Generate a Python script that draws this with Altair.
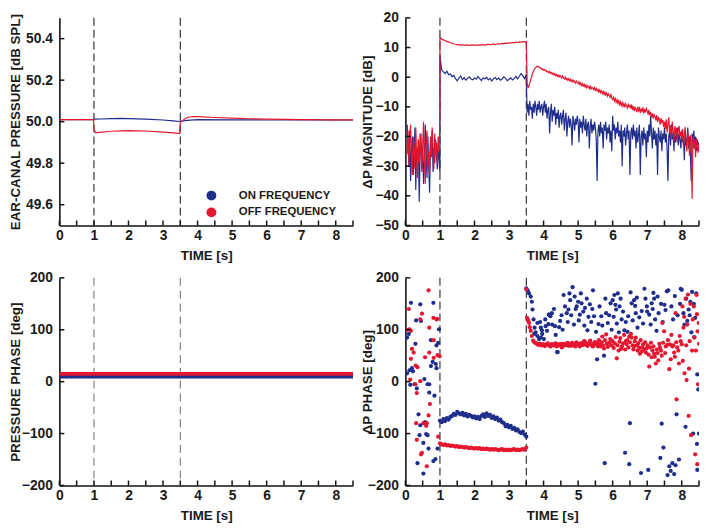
import altair as alt
import numpy as np
import pandas as pd

SERIES = ["ON FREQUENCY", "OFF FREQUENCY"]
BLUE = "#1f2d8c"
RED = "#e5162f"
FONT = "Liberation Sans"
INK = "#1a1a1a"

W, H = 297, 210

X_LABELS = [0, 1, 2, 3, 4, 5, 6, 7, 8]
X_TICKS = [0, 0.5, 1, 1.5, 2, 2.5, 3, 3.5, 4, 4.5, 5, 5.5, 6, 6.5, 7, 7.5, 8, 8.5]
MARKERS = [1.0, 3.5]

# ---------------- panel A: ear-canal pressure ----------------
A_Y_TICKS = [49.6, 49.8, 50.0, 50.2, 50.4]
A_ON_T = [0.0, 0.5, 0.99, 1.0, 1.2, 1.5, 1.8, 2.0, 2.5, 3.0, 3.3, 3.48, 3.52, 3.7, 4.0, 5.0, 6.0, 7.0, 8.0, 8.5]
A_ON_V = [50.010, 50.010, 50.010, 50.012, 50.013, 50.015, 50.016, 50.015, 50.012, 50.008,
          50.004, 50.001, 50.002, 50.006, 50.010, 50.009, 50.008, 50.008, 50.008, 50.008]
A_OFF_T = [0.0, 0.5, 0.99, 1.0, 1.05, 1.1, 1.5, 2.0, 2.5, 3.0, 3.3, 3.48, 3.5, 3.55, 3.7, 3.85,
           4.0, 4.5, 5.0, 5.5, 6.0, 7.0, 8.0, 8.5]
A_OFF_V = [50.010, 50.010, 50.010, 49.965, 49.946, 49.947, 49.954, 49.957, 49.955, 49.950,
           49.946, 49.943, 49.995, 50.004, 50.020, 50.025, 50.024, 50.020, 50.017, 50.014,
           50.012, 50.010, 50.009, 50.009]

# ---------------- panel B: delta-P magnitude (sampled segments) ----------------
B_Y_TICKS = [-50, -40, -30, -20, -10, 0, 10, 20]
B_ON_PRE = [-16, -22, -30, -18, -35, -25, -20, -33, -27, -17, -38, -24, -29, -21, -42, -26, -19,
            -31, -23, -36, -28, -16, -25, -34, -20, -30, -39, -22, -27, -18, -32, -24, -29, -21,
            -26, -31, -23, -28, -32]
B_ON_TONE = [7, 2.5, 1.8, 1.2, 2.0, 0.8, 1.1, 0.2, 0.6, -0.5, -1.2, -0.3, 0.4, -0.8, -0.2, -1.0,
             -0.4, 0.1, -0.6, -0.9, -0.3, -0.7, 0.2, -0.5, -1.1, -0.2, -0.6, 0.0, -0.9, -0.4,
             -1.3, -0.5, -0.1, -0.8, -0.3, -1.0, -0.6, 0.1, -0.4, -1.2, -0.7, -0.2, -0.9, -0.5,
             0.3, -0.6, 0.4, 1.2, 0.5, -0.5, 1.0]
B_ON_POST = [-1, -12, -9, -13, -8, -11, -10, -14, -9, -12, -8, -10, -13, -9, -11, -8, -12, -10, -9, -13,
             -10, -8, -12, -9, -14, -11, -10, -19, -12, -9, -15, -11, -13, -10, -16, -12, -14, -11, -17, -13,
             -12, -16, -13, -11, -18, -14, -12, -20, -15, -13, -17, -14, -16, -23, -13, -15, -18, -14, -16, -13,
             -15, -22, -14, -17, -15, -19, -13, -16, -18, -14, -20, -16, -15, -24, -17, -14, -19, -16, -18, -15,
             -17, -21, -35, -18, -16, -20, -15, -19, -17, -24, -16, -18, -15, -21, -17, -19, -16, -22, -18, -25,
             -13, -18, -16, -21, -17, -19, -15, -20, -18, -22, -16, -30, -18, -20, -17, -23, -19, -16, -21, -18,
             -33, -19, -17, -21, -16, -20, -18, -24, -17, -22, -19, -16, -33, -20, -18, -23, -17, -21, -19, -27,
             -18, -22, -16, -20, -13, -19, -24, -17, -21, -18, -23, -19, -33, -17, -20, -22, -18, -25, -19, -21,
             -17, -22, -19, -24, -35, -20, -18, -23, -16, -21, -19, -25, -18, -22, -20, -17, -23, -19, -21, -24,
             -18, -22, -20, -28, -19, -23, -21, -17, -24, -20, -26, -35, -19, -22, -18, -24, -20, -25, -21, -23,
             -22]
B_OFF_PRE = [-26, -18, -30, -22, -16, -28, -33, -20, -24, -31, -17, -27, -34, -21, -29, -19, -25, -32,
             -23, -15, -28, -36, -22, -18, -30, -25, -33, -20, -27, -17, -24, -31, -19, -26, -22, -29,
             -20, -25, -12]
B_OFF_TONE = [13.5, 12.8, 12.6, 12.4, 12.0, 11.9, 11.6, 11.5, 11.2, 11.1, 11.0, 10.9, 10.8, 11.0, 10.7,
              10.8, 10.9, 10.7, 10.8, 10.9, 10.8, 10.7, 10.9, 10.8, 10.9, 11.0, 10.8, 11.0, 11.1, 10.9,
              11.1, 11.2, 11.0, 11.2, 11.3, 11.2, 11.4, 11.3, 11.5, 11.4, 11.6, 11.5, 11.7, 11.6, 11.8,
              11.7, 11.9, 11.8, 12.0, 11.9, 12.0]
B_OFF_POST = [12, -2, -3.5, -3, -2, -1, 0, 1, 1.8, 2.5, 3, 3.3, 3.6, 3.5, 3.7, 3.4, 3.2, 3.0, 2.6, 2.8,
              2.4, 2.6, 2.1, 2.3, 1.8, 2.0, 1.5, 1.9, 1.3, 1.6, 1.0, 1.4, 0.8, 1.2, 0.5, 0.9, 0.3, 0.7, 0.1, 0.6,
              0.2, -0.3, 0.4, -0.2, -0.6, 0.0, -0.8, -0.4, -1.0, -0.5, -1.2, -0.7, -1.4, -0.9, -1.6, -1.1, -1.5, -2.0, -1.3, -1.8,
              -2.2, -1.6, -2.5, -1.9, -2.8, -2.2, -3.0, -2.4, -3.3, -2.7, -3.6, -2.9, -3.2, -3.8, -3.0, -4.0, -3.4, -3.7, -4.2, -3.5,
              -4.4, -3.8, -4.6, -4.1, -5.0, -4.3, -5.2, -4.6, -5.5, -4.8, -5.8, -5.1, -6.0, -5.4, -6.4, -5.6, -6.2, -6.8, -5.9, -7.0,
              -7.5, -6.8, -8.0, -7.2, -8.4, -7.6, -8.8, -8.0, -9.2, -8.3, -9.5, -8.6, -9.8, -8.9, -10.2, -9.0, -9.6, -10.4, -9.2, -10.0,
              -9.5, -10.6, -9.2, -11.0, -9.8, -11.4, -10.2, -10.8, -11.8, -10.0, -11.2, -10.4, -12.0, -10.8, -11.5, -10.2, -12.2, -11.0, -11.6, -10.6,
              -11.5, -12.4, -11.0, -12.8, -11.8, -13.5, -12.2, -14.0, -12.6, -13.2, -14.6, -12.8, -15.2, -13.6, -14.2, -16.0, -13.8, -15.5, -14.4, -16.8,
              -15.0, -17.5, -14.2, -18.6, -15.8, -13.5, -19.0, -16.2, -20.5, -15.0, -18.0, -21.5, -16.5, -19.2, -17.0, -22.0, -18.0, -16.4, -20.0, -18.5,
              -21.0, -17.5, -23.5, -19.0, -16.8, -22.0, -25.0, -18.5, -21.5, -26.5, -19.5, -23.0, -41.0, -20.0, -24.0, -21.0, -27.0, -20.5, -23.5, -25.5,
              -22.0]

# ---------------- panel C: pressure phase ----------------
PH_Y_TICKS = [-200, -100, 0, 100, 200]
C_T = [0, 1, 2, 3, 4, 5, 6, 7, 8, 8.5]
C_ON_V = [10, 10, 10, 10, 10, 10, 10, 10, 10, 10]
C_OFF_V = [15, 15, 15, 15, 15, 15, 15, 15, 15, 15]

# ---------------- panel D: delta-P phase (scatter) ----------------
D_ON_PRE = [(0.05, 85), (0.1, 92), (0.16, 152), (0.43, 149), (0.81, 152), (0.31, 118), (0.45, 117),
            (0.29, 73), (0.74, 80), (0.9, 70), (0.95, 75), (0.97, 101), (0.05, 16), (0.12, 22),
            (0.19, 26), (0.14, -6), (0.26, -5), (0.33, -13), (0.64, -5), (0.69, -5), (0.69, -21),
            (0.88, 34), (0.9, 26), (0.79, 38), (0.74, 30), (0.84, -27), (0.38, -63), (0.43, -84),
            (0.57, -78), (0.41, -103), (0.6, -101), (0.64, -103), (0.52, -118), (0.35, -157),
            (0.67, -129), (0.81, -153), (0.87, -149), (0.52, -177), (0.93, -129), (0.22, 20), (0.55, 5)]
D_ON_TONE = [-75, -78, -72, -76, -70, -73, -68, -66, -62, -64, -58, -61, -63, -60, -65, -62, -67, -64,
             -66, -69, -67, -71, -68, -72, -66, -63, -68, -61, -66, -64, -70, -67, -72, -69, -75, -73,
             -78, -80, -86, -83, -88, -85, -91, -89, -94, -92, -97, -99, -96, -102, -106]
D_ON_POST = [(3.5, 180), (3.54, 176), (3.58, 170), (3.63, 164), (3.66, 154), (3.68, 139), (3.71, 120),
             (3.74, 104), (3.77, 95), (3.82, 88), (3.87, 82), (3.92, 85), (3.96, 92), (4.06, 107),
             (4.15, 129), (4.25, 110), (4.39, 57), (3.82, 113), (3.92, 104), (3.73, 92), (4.01, 82),
             (3.90, 115), (3.95, 99), (4.14, 111), (4.16, 129), (4.24, 132), (4.33, 107), (4.41, 57),
             (4.48, 117), (4.58, 167), (4.67, 132), (4.72, 139), (4.77, 157), (4.84, 182), (4.9, 164),
             (4.96, 145), (5.0, 154), (5.05, 129), (5.1, 151), (5.2, 142), (5.27, 99), (5.34, 149),
             (5.43, 176), (5.46, 126), (5.5, -4), (5.55, 43), (5.59, 111), (5.67, 126), (5.75, 50),
             (5.77, -157), (5.81, 132), (5.86, 113), (5.94, 151), (6.0, 157), (6.05, 167), (6.1, 139),
             (6.15, 170), (6.2, 145), (6.26, 120), (6.34, 99), (6.36, -137), (6.43, 96), (6.48, -159),
             (6.5, -80), (6.55, 151), (6.62, 157), (6.67, 132), (6.72, 104), (6.82, -176), (6.84, 136),
             (6.92, 179), (6.99, 145), (7.03, -170), (7.06, 129), (7.13, 151), (7.18, 171), (7.23, 120),
             (7.3, 164), (7.38, -147), (7.42, -81), (7.47, -127), (7.5, 148), (7.57, 174), (7.59, -180),
             (7.64, -163), (7.68, -172), (7.73, -157), (7.78, -178), (7.82, -161), (7.85, -63),
             (7.92, -150), (7.97, 179), (8.05, 132), (8.11, -87), (8.16, 117), (8.2, 139), (8.25, 154),
             (8.3, 173), (8.39, 123), (8.45, 14), (8.48, -15), (8.5, -100),
             (4.05, 120), (4.1, 98), (4.2, 126), (4.3, 140), (4.35, 90), (4.45, 105), (4.52, 128),
             (4.55, 100), (4.62, 145), (4.7, 115), (4.75, 170), (4.8, 128), (4.88, 110), (4.93, 140),
             (5.02, 118), (5.08, 170), (5.15, 135), (5.18, 108), (5.25, 160), (5.3, 125), (5.38, 115),
             (5.41, 140), (5.52, 96), (5.62, 145), (5.7, 108), (5.79, 160), (5.9, 128), (5.97, 100),
             (6.03, 125), (6.08, 148), (6.12, 112), (6.18, 95), (6.23, 160), (6.3, 135), (6.38, 115),
             (6.45, 126), (6.52, 172), (6.58, 118), (6.65, 146), (6.7, 162), (6.77, 124), (6.88, 112),
             (6.95, 160), (7.0, 135), (7.1, 110), (7.16, 140), (7.2, 160), (7.27, 98), (7.33, 132),
             (7.4, 150), (7.45, 115), (7.53, 138), (7.61, 176), (7.7, 145), (7.75, 120), (7.8, 165),
             (7.88, 128), (7.95, 150), (8.0, 177), (8.08, 110), (8.13, 160), (8.23, 128), (8.28, 95),
             (8.35, 150), (8.42, 170), (8.33, -100), (8.45, -170), (8.36, 86), (8.44, -120)]
D_OFF_PRE = [(0.1, 140), (0.12, 101), (0.16, 98), (0.67, 176), (0.48, 131), (0.43, 120), (0.19, 63),
             (0.16, 44), (0.24, 56), (0.3, 31), (0.35, 28), (0.69, 104), (0.81, 123), (0.92, 121),
             (0.82, 80), (0.93, 51), (0.99, 49), (0.69, 56), (0.57, 47), (0.82, 46), (0.14, 4),
             (0.29, -5), (0.43, 1), (0.33, -22), (0.71, -43), (0.67, -65), (0.62, -80), (0.31, -80),
             (0.6, -85), (0.52, -80), (0.33, -112), (0.48, -137), (0.45, -140), (0.62, -163),
             (0.95, -106), (0.05, 100), (0.9, 120)]
D_OFF_TONE = [-119, -121, -122, -121, -123, -122, -124, -123, -124, -125, -124, -126, -125, -126, -127,
              -126, -127, -128, -127, -128, -129, -128, -129, -128, -130, -129, -130, -129, -130, -131,
              -130, -131, -130, -131, -132, -131, -130, -132, -131, -132, -131, -132, -131, -130, -132,
              -131, -132, -131, -130, -131, -127]
D_OFF_BAND = [74, 72, 71, 73, 73, 70, 70, 72, 72, 69, 69, 71, 73, 74, 71, 69, 68, 72, 72, 70,
              70, 73, 74, 68, 69, 72, 71, 70, 73, 66, 68, 73, 72, 71, 70, 74, 75, 69, 71, 72,
              69, 75, 73, 70, 70, 68, 76, 73, 72, 71, 68, 74, 74, 71, 71, 78, 77, 73, 70, 69,
              73, 75, 79, 71, 72, 68, 69, 76, 76, 73, 74, 68, 80]
D_OFF_POST = [(3.5, 178), (3.52, 123), (3.54, 120), (3.56, 117), (3.58, 113), (3.6, 105), (3.63, 98),
              (3.66, 88), (3.7, 79), (3.73, 76), (3.77, 74),
              (5.62, 72), (5.65, 68), (5.68, 76), (5.7, 87), (5.72, 70), (5.75, 64), (5.78, 80), (5.81, 91),
              (5.83, 73), (5.86, 67), (5.9, 75), (5.93, 82), (5.96, 70), (6.0, 78), (6.03, 65), (6.06, 74),
              (6.09, 86), (6.12, 45), (6.14, 70), (6.17, 60), (6.2, 77), (6.22, 84), (6.24, 63), (6.27, 68),
              (6.3, 74), (6.33, 90), (6.36, 62), (6.38, 78), (6.4, 72), (6.43, 80), (6.46, 66), (6.48, 87),
              (6.5, 76), (6.53, 92), (6.55, 85), (6.58, 70), (6.6, 62), (6.62, 68), (6.64, 78), (6.67, 85),
              (6.7, 70), (6.72, 60), (6.74, 74), (6.77, 65), (6.79, 54), (6.81, 80), (6.84, 58), (6.86, 66),
              (6.88, 72), (6.91, 62), (6.94, 76), (6.96, 56), (6.98, 64), (7.01, 70), (7.04, 52), (7.06, 29),
              (7.08, 66), (7.11, 75), (7.13, 47), (7.15, 60), (7.18, 68), (7.2, 54), (7.22, 48), (7.25, 35),
              (7.28, 62), (7.3, 55), (7.32, 41), (7.35, 73), (7.37, 66), (7.4, 60), (7.42, 50),
              (7.44, 113), (7.46, 75), (7.49, 97), (7.52, 55), (7.54, 68), (7.58, 71), (7.6, 80), (7.64, 24),
              (7.66, 72), (7.68, 43), (7.7, 90), (7.73, 68), (7.76, 70), (7.78, 56), (7.8, 48), (7.82, 132),
              (7.84, 76), (7.85, -34), (7.87, 66), (7.9, 60), (7.92, 35), (7.94, 88), (7.97, 78), (8.0, 72),
              (8.02, 145), (8.03, 40), (8.05, 104), (8.07, 125), (8.08, 16), (8.11, 160), (8.13, 70),
              (8.14, 3), (8.16, 110), (8.18, 168), (8.2, -66), (8.21, 25), (8.23, 78), (8.25, 150),
              (8.27, -103), (8.3, 60), (8.32, 120), (8.35, 145), (8.37, 85), (8.39, -140), (8.41, 60),
              (8.43, 167), (8.44, 130), (8.45, -159), (8.46, 97), (8.47, -5), (8.49, 113), (8.5, 73)]


# ---------------- helpers ----------------
def sampled(start, end, values, name):
    return pd.DataFrame({"t": np.linspace(start, end, len(values)), "v": values, "s": name})


def listed(ts, vs, name):
    return pd.DataFrame({"t": ts, "v": vs, "s": name})


def pairs(pts, name):
    return pd.DataFrame({"t": [p[0] for p in pts], "v": [p[1] for p in pts], "s": name})


XSCALE = alt.Scale(domain=[0, 8.5], nice=False, zero=False)
XAXIS = alt.Axis(values=X_LABELS, format="d", title="TIME [s]", ticks=False, tickSize=0,
                 labelPadding=3, titlePadding=6, labelFlush=False, labelOverlap=False, grid=False)


def panel(data_layers, ydomain, yticks, yfmt, ytitle, title_x, vline_color, dash):
    yscale = alt.Scale(domain=ydomain, nice=False, zero=False)
    yaxis = alt.Axis(values=yticks, format=yfmt, title=ytitle, ticks=False, tickSize=0,
                     labelPadding=7, titleX=title_x, titleBaseline="middle", grid=False,
                     labelFlush=False, labelOverlap=False)
    X = alt.X("t:Q", scale=XSCALE, axis=XAXIS)
    Y = alt.Y("v:Q", scale=yscale, axis=yaxis)
    layers = [mk(X, Y) for mk in data_layers]
    vl = alt.Chart(pd.DataFrame({"t": MARKERS})).mark_rule(
        color=vline_color, strokeWidth=1.1, strokeDash=dash).encode(x=X)
    xt = alt.Chart(pd.DataFrame({"t": X_TICKS})).mark_rule(
        color="#111", strokeWidth=1.5).encode(x=X, y=alt.value(H), y2=alt.value(H - 5))
    yt = alt.Chart(pd.DataFrame({"v": yticks})).mark_rule(
        color="#111", strokeWidth=1.5).encode(y=Y, x=alt.value(0), x2=alt.value(5))
    return alt.layer(vl, *layers, xt, yt).properties(width=W, height=H)


def line(df, color, width=1.2):
    return lambda X, Y: alt.Chart(df).mark_line(color=color, strokeWidth=width, clip=True).encode(x=X, y=Y)


# panel A
a_on = listed(A_ON_T, A_ON_V, SERIES[0])
a_off = listed(A_OFF_T, A_OFF_V, SERIES[1])
pA = panel([line(a_on, BLUE), line(a_off, RED)], [49.5, 50.5], A_Y_TICKS, ".1f",
           "EAR-CANAL PRESSURE [dB SPL]", -44, "#222", [8, 4])

# panel B
b_on = pd.concat([sampled(0.05, 1.0, B_ON_PRE, SERIES[0]), sampled(1.0, 3.5, B_ON_TONE, SERIES[0]),
                  sampled(3.5, 8.5, B_ON_POST, SERIES[0])], ignore_index=True)
b_off = pd.concat([sampled(0.05, 1.0, B_OFF_PRE, SERIES[1]), sampled(1.0, 3.5, B_OFF_TONE, SERIES[1]),
                   sampled(3.5, 8.5, B_OFF_POST, SERIES[1])], ignore_index=True)
pB = panel([line(b_on, BLUE), line(b_off, RED)], [-50, 20], B_Y_TICKS, "d",
           "ΔP MAGNITUDE [dB]", -38, "#222", [8, 4])

# panel C
c_on = listed(C_T, C_ON_V, SERIES[0])
c_off = listed(C_T, C_OFF_V, SERIES[1])
pC = panel([line(c_on, BLUE, 4), line(c_off, RED, 4)], [-200, 200], PH_Y_TICKS, "d",
           "PRESSURE PHASE [deg]", -44, "#777", [8, 5])

# panel D
d_df = pd.concat([
    pairs(D_ON_PRE, SERIES[0]), sampled(1.0, 3.5, D_ON_TONE, SERIES[0]), pairs(D_ON_POST, SERIES[0]),
    pairs(D_OFF_PRE, SERIES[1]), sampled(1.0, 3.5, D_OFF_TONE, SERIES[1]),
    sampled(3.8, 5.6, D_OFF_BAND, SERIES[1]), pairs(D_OFF_POST, SERIES[1]),
], ignore_index=True)

legend = alt.Legend(orient="none", legendX=148, legendY=174, title=None, symbolType="circle",
                    symbolSize=100, symbolStrokeWidth=0, symbolOpacity=1, labelFont=FONT,
                    labelFontSize=11.5, labelFontWeight="bold", labelColor=INK, labelOffset=22,
                    rowPadding=4, padding=0)


def scatter(X, Y):
    return alt.Chart(d_df).mark_point(filled=True, size=18, opacity=1, clip=True).encode(
        x=X, y=Y,
        color=alt.Color("s:N", scale=alt.Scale(domain=SERIES, range=[BLUE, RED]), legend=legend),
    )


pD = panel([scatter], [-200, 200], PH_Y_TICKS, "d", "ΔP PHASE [deg]", -38, "#222", [8, 4])

chart = alt.concat(pA, pB, pC, pD, columns=2, spacing=53, bounds="flush").properties(
    padding={"left": 0, "top": 0, "right": 0, "bottom": 0}
).configure_view(strokeWidth=0).configure_axis(
    labelFont=FONT, labelFontSize=14, labelFontWeight="bold", labelColor=INK,
    titleFont=FONT, titleFontSize=13.5, titleFontWeight="bold", titleColor=INK,
    domainColor="#111", domainWidth=1.6,
)

chart.save("out.html", embed_options={"renderer": "svg", "actions": False})
